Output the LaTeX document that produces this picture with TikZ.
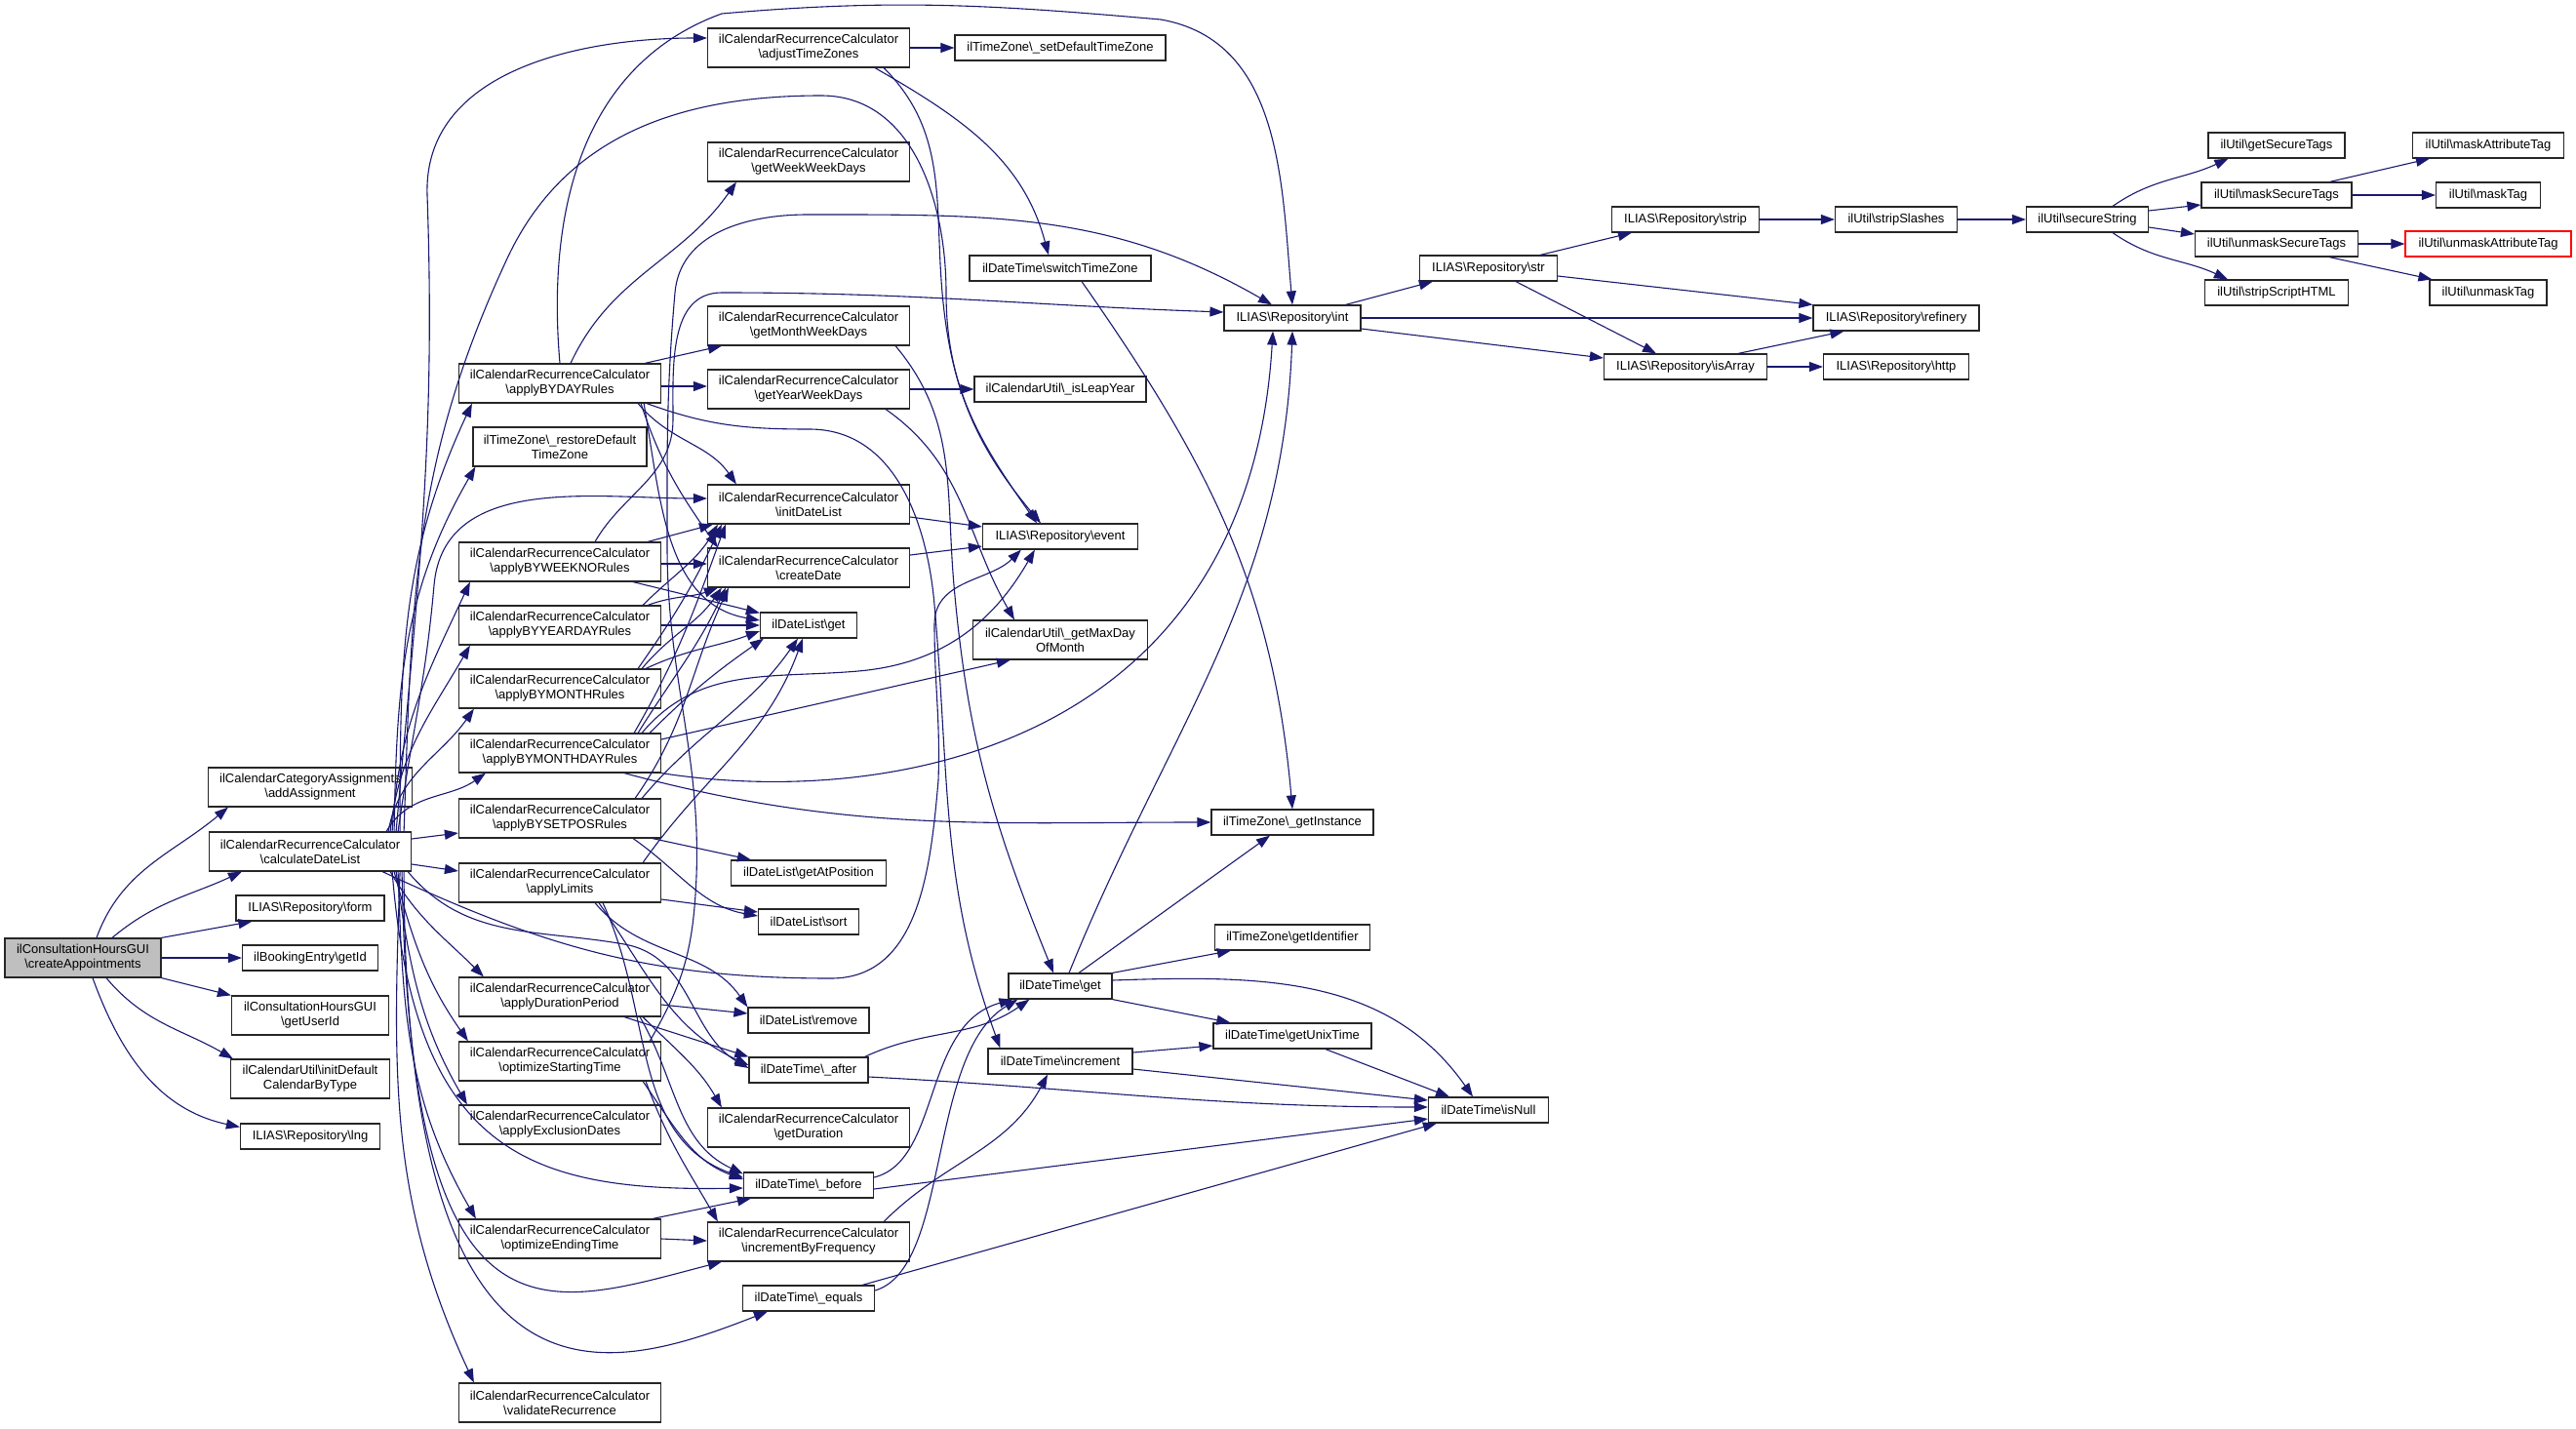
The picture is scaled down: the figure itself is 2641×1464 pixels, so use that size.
\documentclass[tikz,border=0pt]{standalone}
\usepackage{fontspec}
\setmainfont{Liberation Sans}
\usetikzlibrary{arrows.meta}
\definecolor{edgeblue}{HTML}{191970}
\definecolor{callergray}{HTML}{BFBFBF}
\newcommand{\bksl}{\textbackslash}
\tikzset{
  fnbox/.style={draw=black!85, line width=1.2pt, fill=white, align=center, inner sep=2pt,
    minimum height=26pt, font=\fontsize{13}{15}\selectfont},
  fnboxtwo/.style={fnbox, minimum height=40pt},
  call/.style={draw=edgeblue, line width=1.1pt, -{Triangle[length=14pt,width=10pt]}}
}

\begin{document}
\begin{tikzpicture}[x=1pt, y=1pt]
    \useasboundingbox (0,0) rectangle (2641,-1464);

    \node[fnboxtwo, minimum width=160pt, fill=callergray] (cA) at (85,-982) {ilConsultationHoursGUI\\\bksl createAppointments};
    \node[fnboxtwo, minimum width=209pt] (addasg) at (318,-807) {ilCalendarCategoryAssignments\\\bksl addAssignment};
    \node[fnboxtwo, minimum width=207pt] (cdl) at (318,-873) {ilCalendarRecurrenceCalculator\\\bksl calculateDateList};
    \node[fnbox, minimum width=152pt] (form) at (318,-931) {ILIAS\bksl Repository\bksl form};
    \node[fnbox, minimum width=139pt] (getid) at (318,-982) {ilBookingEntry\bksl getId};
    \node[fnboxtwo, minimum width=161pt] (getuserid) at (318,-1041) {ilConsultationHoursGUI\\\bksl getUserId};
    \node[fnboxtwo, minimum width=163pt] (initdef) at (318,-1106) {ilCalendarUtil\bksl initDefault\\CalendarByType};
    \node[fnbox, minimum width=143pt] (lng) at (318,-1165) {ILIAS\bksl Repository\bksl lng};

    \node[fnboxtwo, minimum width=207pt] (byday) at (574,-393) {ilCalendarRecurrenceCalculator\\\bksl applyBYDAYRules};
    \node[fnboxtwo, minimum width=178pt] (restoretz) at (574,-458) {ilTimeZone\bksl\_restoreDefault\\TimeZone};
    \node[fnboxtwo, minimum width=207pt] (bywn) at (574,-576) {ilCalendarRecurrenceCalculator\\\bksl applyBYWEEKNORules};
    \node[fnboxtwo, minimum width=207pt] (byyd) at (574,-641) {ilCalendarRecurrenceCalculator\\\bksl applyBYYEARDAYRules};
    \node[fnboxtwo, minimum width=207pt] (bym) at (574,-706) {ilCalendarRecurrenceCalculator\\\bksl applyBYMONTHRules};
    \node[fnboxtwo, minimum width=207pt] (bymd) at (574,-772) {ilCalendarRecurrenceCalculator\\\bksl applyBYMONTHDAYRules};
    \node[fnboxtwo, minimum width=207pt] (bysp) at (574,-839) {ilCalendarRecurrenceCalculator\\\bksl applyBYSETPOSRules};
    \node[fnboxtwo, minimum width=207pt] (limits) at (574,-905) {ilCalendarRecurrenceCalculator\\\bksl applyLimits};
    \node[fnboxtwo, minimum width=207pt] (dur) at (574,-1022) {ilCalendarRecurrenceCalculator\\\bksl applyDurationPeriod};
    \node[fnboxtwo, minimum width=207pt] (optst) at (574,-1088) {ilCalendarRecurrenceCalculator\\\bksl optimizeStartingTime};
    \node[fnboxtwo, minimum width=207pt] (exclusion) at (574,-1153) {ilCalendarRecurrenceCalculator\\\bksl applyExclusionDates};
    \node[fnboxtwo, minimum width=207pt] (optend) at (574,-1270) {ilCalendarRecurrenceCalculator\\\bksl optimizeEndingTime};
    \node[fnboxtwo, minimum width=207pt] (validate) at (574,-1438) {ilCalendarRecurrenceCalculator\\\bksl validateRecurrence};

    \node[fnboxtwo, minimum width=207pt] (adjtz) at (829,-49) {ilCalendarRecurrenceCalculator\\\bksl adjustTimeZones};
    \node[fnboxtwo, minimum width=207pt] (getweek) at (829,-166) {ilCalendarRecurrenceCalculator\\\bksl getWeekWeekDays};
    \node[fnboxtwo, minimum width=207pt] (getmonth) at (829,-334) {ilCalendarRecurrenceCalculator\\\bksl getMonthWeekDays};
    \node[fnboxtwo, minimum width=207pt] (getyear) at (829,-399) {ilCalendarRecurrenceCalculator\\\bksl getYearWeekDays};
    \node[fnboxtwo, minimum width=207pt] (initdl) at (829,-517) {ilCalendarRecurrenceCalculator\\\bksl initDateList};
    \node[fnboxtwo, minimum width=207pt] (cdate) at (829,-582) {ilCalendarRecurrenceCalculator\\\bksl createDate};
    \node[fnbox, minimum width=99pt] (dlget) at (829,-641) {ilDateList\bksl get};
    \node[fnbox, minimum width=159pt] (getatpos) at (829,-895) {ilDateList\bksl getAtPosition};
    \node[fnbox, minimum width=103pt] (sort) at (829,-945) {ilDateList\bksl sort};
    \node[fnbox, minimum width=124pt] (remove) at (829,-1046) {ilDateList\bksl remove};
    \node[fnbox, minimum width=122pt] (after) at (829,-1097) {ilDateTime\bksl\_after};
    \node[fnboxtwo, minimum width=207pt] (getduration) at (829,-1156) {ilCalendarRecurrenceCalculator\\\bksl getDuration};
    \node[fnbox, minimum width=133pt] (before) at (829,-1215) {ilDateTime\bksl\_before};
    \node[fnboxtwo, minimum width=207pt] (incrfreq) at (829,-1273) {ilCalendarRecurrenceCalculator\\\bksl incrementByFrequency};
    \node[fnbox, minimum width=135pt] (equals) at (829,-1331) {ilDateTime\bksl\_equals};

    \node[fnbox, minimum width=216pt] (setdeftz) at (1087,-49) {ilTimeZone\bksl\_setDefaultTimeZone};
    \node[fnbox, minimum width=186pt] (switchtz) at (1087,-275) {ilDateTime\bksl switchTimeZone};
    \node[fnbox, minimum width=176pt] (isleap) at (1087,-399) {ilCalendarUtil\bksl\_isLeapYear};
    \node[fnbox, minimum width=159pt] (event) at (1087,-550) {ILIAS\bksl Repository\bksl event};
    \node[fnboxtwo, minimum width=179pt] (maxday) at (1087,-656) {ilCalendarUtil\bksl\_getMaxDay\\OfMonth};
    \node[fnbox, minimum width=106pt] (dtget) at (1087,-1011) {ilDateTime\bksl get};
    \node[fnbox, minimum width=148pt] (incr) at (1087,-1088) {ilDateTime\bksl increment};

    \node[fnbox, minimum width=140pt] (int) at (1325,-326) {ILIAS\bksl Repository\bksl int};
    \node[fnbox, minimum width=166pt] (getinst) at (1325,-843) {ilTimeZone\bksl\_getInstance};
    \node[fnbox, minimum width=159pt] (getident) at (1325,-961) {ilTimeZone\bksl getIdentifier};
    \node[fnbox, minimum width=162pt] (getunix) at (1325,-1062) {ilDateTime\bksl getUnixTime};
    \node[fnbox, minimum width=141pt] (str) at (1526,-275) {ILIAS\bksl Repository\bksl str};
    \node[fnbox, minimum width=123pt] (isnull) at (1526,-1138) {ilDateTime\bksl isNull};
    \node[fnbox, minimum width=151pt] (strip) at (1728,-225) {ILIAS\bksl Repository\bksl strip};
    \node[fnbox, minimum width=167pt] (isarray) at (1728,-376) {ILIAS\bksl Repository\bksl isArray};
    \node[fnbox, minimum width=125pt] (stripslashes) at (1944,-225) {ilUtil\bksl stripSlashes};
    \node[fnbox, minimum width=170pt] (refinery) at (1944,-326) {ILIAS\bksl Repository\bksl refinery};
    \node[fnbox, minimum width=149pt] (http) at (1944,-376) {ILIAS\bksl Repository\bksl http};
    \node[fnbox, minimum width=125pt] (securestr) at (2140,-225) {ilUtil\bksl secureString};
    \node[fnbox, minimum width=140pt] (getsecure) at (2334,-149) {ilUtil\bksl getSecureTags};
    \node[fnbox, minimum width=154pt] (masksecure) at (2334,-200) {ilUtil\bksl maskSecureTags};
    \node[fnbox, minimum width=167pt] (unmasksecure) at (2334,-250) {ilUtil\bksl unmaskSecureTags};
    \node[fnbox, minimum width=147pt] (stripscript) at (2334,-300) {ilUtil\bksl stripScriptHTML};
    \node[fnbox, minimum width=155pt] (maskattr) at (2551,-149) {ilUtil\bksl maskAttributeTag};
    \node[fnbox, minimum width=107pt] (masktag) at (2551,-200) {ilUtil\bksl maskTag};
    \node[fnbox, minimum width=170pt, draw=red] (unmaskattr) at (2551,-250) {ilUtil\bksl unmaskAttributeTag};
    \node[fnbox, minimum width=120pt] (unmasktag) at (2551,-300) {ilUtil\bksl unmaskTag};

    % createAppointments
    \draw[call] ([xshift=14]cA.north) to[out=70,in=220] ([xshift=21]addasg.south west);
    \draw[call] ([xshift=30]cA.north) to[out=40,in=205] ([xshift=34]cdl.south west);
    \draw[call] (cA.north east) -- ([xshift=17]form.south west);
    \draw[call] (cA.east) -- (getid.west);
    \draw[call] (cA.south east) -- (getuserid.north west);
    \draw[call] ([xshift=24]cA.south) to[out=-50,in=150] ([xshift=3]initdef.north west);
    \draw[call] ([xshift=10]cA.south) to[out=-70,in=168] ([yshift=-4]lng.north west);

    % calculateDateList
    \draw[call] ([xshift=-16]cdl.north east) to[out=85,in=-88] (438,-200) to[out=92,in=180] ([yshift=10]adjtz.west);
    \draw[call] ([xshift=-8]cdl.north east) to[out=88,in=-115] (520,-265) to[out=65,in=180] (842,-98) to[out=0,in=90] (970,-300) to[out=-90,in=125] ([xshift=-24]event.north);
    \draw[call] ([xshift=-12]cdl.north east) to[out=90,in=245] ([xshift=14]byday.south west);
    \draw[call] ([xshift=-18]cdl.north east) to[out=89,in=240] ([xshift=3]restoretz.south west);
    \draw[call] ([xshift=-14]cdl.north east) to[out=82,in=-95] (445,-600) to[out=85,in=180] ([yshift=6]initdl.west);
    \draw[call] ([xshift=-20]cdl.north east) to[out=87,in=245] ([xshift=12]bywn.south west);
    \draw[call] ([xshift=-22]cdl.north east) to[out=84,in=240] ([xshift=12]byyd.south west);
    \draw[call] ([xshift=-24]cdl.north east) to[out=80,in=235] ([xshift=16]bym.south west);
    \draw[call] ([xshift=-26]cdl.north east) to[out=60,in=215] ([xshift=28]bymd.south west);
    \draw[call] ([yshift=13]cdl.east) -- ([yshift=-15]bysp.west);
    \draw[call] ([yshift=-13]cdl.east) -- ([yshift=12]limits.west);
    \draw[call] ([xshift=-22]cdl.south east) to[out=-60,in=135] ([xshift=26]dur.north west);
    \draw[call] ([xshift=-18]cdl.south east) to[out=-75,in=125] ([xshift=10]optst.north west);
    \draw[call] ([xshift=-16]cdl.south east) to[out=-82,in=120] ([xshift=9]exclusion.north west);
    \draw[call] ([xshift=-14]cdl.south east) to[out=-88,in=120] ([xshift=18]optend.north west);
    \draw[call] ([xshift=-12]cdl.south east) to[out=-92,in=115] ([xshift=16]validate.north west);
    \draw[call] ([xshift=-20]cdl.south east) .. controls (425,-1180) and (540,-1222) .. ([yshift=-3]before.west);
    \draw[call] ([xshift=-10]cdl.south east) .. controls (420,-1400) and (560,-1340) .. ([xshift=15]incrfreq.south west);
    \draw[call] ([xshift=-8]cdl.south east) .. controls (415,-1470) and (620,-1410) .. ([xshift=26]equals.south west);
    \draw[call] ([xshift=-30]cdl.south east) to[out=-25,in=180] (852,-1003) to[out=0,in=-95] (962,-800) to[out=88,in=-90] (958,-640) to[out=90,in=225] ([xshift=40]event.south west);
    \draw[call] ([xshift=-4]cdl.south east) to[out=-50,in=170] (640,-968) to[out=-10,in=150] ([yshift=2]after.west);

    % apply...Rules
    \draw[call] (byday.north) to[out=95,in=200] (740,-14) to[out=5,in=175] (1190,-20) to[out=-10,in=95] (int.north);
    \draw[call] ([xshift=11]byday.north) to[out=65,in=235] ([xshift=30]getweek.south west);
    \draw[call] ([xshift=-17]byday.north east) -- ([xshift=15]getmonth.south west);
    \draw[call] ([yshift=-3]byday.east) -- ([yshift=3]getyear.west);
    \draw[call] ([xshift=-24]byday.south east) to[out=-50,in=125] ([xshift=30]initdl.north west);
    \draw[call] ([xshift=-21]byday.south east) to[out=-72,in=125] ([xshift=11]cdate.north west);
    \draw[call] ([xshift=-18]byday.south east) to[out=-80,in=170] ([yshift=5]dlget.west);
    \draw[call] ([xshift=-15]byday.south east) to[out=-20,in=180] (830,-440) to[out=0,in=95] (958,-620) to[out=-85,in=110] ([xshift=13]incr.north west);

    \draw[call] ([xshift=36]bywn.north) to[out=60,in=-90] (690,-430) to[out=90,in=180] (740,-300) to[out=0,in=178] ([yshift=6]int.west);
    \draw[call] ([xshift=-14]bywn.north east) -- ([xshift=6]initdl.south west);
    \draw[call] ([yshift=-2]bywn.east) -- ([yshift=4]cdate.west);
    \draw[call] ([xshift=-29]bywn.south east) -- ([yshift=-1]dlget.north west);

    \draw[call] ([xshift=-19]byyd.north east) to[out=45,in=240] ([xshift=11]initdl.south west);
    \draw[call] ([xshift=-14]byyd.north east) to[out=20,in=200] ([xshift=11]cdate.south west);
    \draw[call] (byyd.east) -- (dlget.west);

    \draw[call] ([xshift=-24]bym.north east) to[out=55,in=245] ([xshift=15]initdl.south west);
    \draw[call] ([xshift=-20]bym.north east) to[out=50,in=235] ([xshift=15]cdate.south west);
    \draw[call] ([xshift=-16]bym.north east) to[out=25,in=200] ([yshift=-6]dlget.west);

    \draw[call] ([xshift=-28]bymd.north east) to[out=60,in=250] ([xshift=19]initdl.south west);
    \draw[call] ([xshift=-24]bymd.north east) to[out=58,in=245] ([xshift=19]cdate.south west);
    \draw[call] ([xshift=-12]bymd.north east) to[out=45,in=215] ([xshift=4]dlget.south west);
    \draw[call] ([xshift=-20]bymd.north east) to[out=50,in=185] (880,-688) to[out=5,in=240] ([xshift=54]event.south west);
    \draw[call] ([yshift=14]bymd.east) -- ([xshift=39]maxday.south west);
    \draw[call] (bymd.south east) .. controls (920,-830) and (1280,-760) .. ([xshift=-20]int.south);
    \draw[call] ([xshift=-38]bymd.south east) to[out=-15,in=180] (getinst.west);

    \draw[call] ([xshift=-27]bysp.north east) to[out=55,in=245] ([xshift=22]cdate.south west);
    \draw[call] ([xshift=-20]bysp.north east) to[out=50,in=235] ([xshift=-11]dlget.south);
    \draw[call] ([xshift=-9]bysp.south east) -- ([xshift=21]getatpos.north west);
    \draw[call] ([xshift=-29]bysp.south east) to[out=-35,in=170] ([yshift=6]sort.west);

    \draw[call] ([yshift=-17]limits.east) -- ([yshift=10]sort.west);
    \draw[call] ([xshift=-19]limits.north east) to[out=55,in=250] ([xshift=-6]dlget.south);
    \draw[call] ([xshift=36]limits.south) to[out=-50,in=125] (remove.north west);
    \draw[call] ([xshift=40]limits.south) to[out=-55,in=155] ([yshift=5]after.west);
    \draw[call] ([xshift=44]limits.south) to[out=-65,in=160] ([yshift=-6]before.north west);

    \draw[call] ([yshift=-8]dur.east) -- ([yshift=7]remove.west);
    \draw[call] ([xshift=-38]dur.south east) -- (after.north west);
    \draw[call] ([xshift=-19]dur.south east) to[out=-45,in=120] ([xshift=15]getduration.north west);
    \draw[call] ([xshift=-22]dur.south east) to[out=-60,in=155] ([yshift=-2]before.north west);

    \draw[call] ([xshift=-19]optst.south east) to[out=-55,in=160] ([yshift=6]before.west);
    \draw[call] ([xshift=-16]optst.south east) to[out=-70,in=120] ([xshift=11]incrfreq.north west);
    \draw[call] ([xshift=-12]optst.north east) to[out=60,in=-95] (712,-930) to[out=85,in=-90] (684,-560) to[out=90,in=-95] (692,-300) to[out=85,in=180] (828,-220) to[out=0,in=150] ([xshift=-21]int.north);

    \draw[call] ([xshift=-9]optend.north east) -- ([xshift=8]before.south west);
    \draw[call] (optend.east) -- ([yshift=1]incrfreq.west);

    % column four and five
    \draw[call] (adjtz.east) -- (setdeftz.west);
    \draw[call] ([xshift=-36]adjtz.south east) to[out=-30,in=105] ([xshift=-12]switchtz.north);
    \draw[call] ([xshift=-27]adjtz.south east) to[out=-45,in=95] (966,-300) to[out=-85,in=130] ([xshift=-20]event.north);
    \draw[call] ([xshift=-15]getmonth.south east) to[out=-50,in=95] (978,-600) to[out=-85,in=112] ([xshift=-7]dtget.north);
    \draw[call] (getyear.east) -- (isleap.west);
    \draw[call] ([xshift=-25]getyear.south east) to[out=-35,in=120] ([xshift=-47]maxday.north);
    \draw[call] ([yshift=-13]initdl.east) -- ([yshift=10]event.west);
    \draw[call] ([yshift=13]cdate.east) -- ([yshift=-10]event.west);
    \draw[call] ([xshift=22]switchtz.south) to[out=-55,in=95] (getinst.north);

    \draw[call] ([xshift=-4]after.north east) to[out=25,in=215] ([xshift=22]dtget.south west);
    \draw[call] ([yshift=-7]after.east) to[out=-3,in=180] ([yshift=3]isnull.west);
    \draw[call] ([yshift=8]before.east) .. controls (965,-1190) and (945,-1050) .. ([xshift=5]dtget.south west);
    \draw[call] ([yshift=-4]before.east) -- ([yshift=-9]isnull.west);
    \draw[call] ([yshift=8]equals.east) .. controls (975,-1300) and (950,-1080) .. ([xshift=10]dtget.south west);
    \draw[call] ([xshift=-13]equals.north east) -- ([xshift=9]isnull.south west);
    \draw[call] ([xshift=-27]incrfreq.north east) to[out=45,in=-118] ([xshift=-13]incr.south);

    \draw[call] ([xshift=9]dtget.north) to[out=68,in=-92] (int.south);
    \draw[call] ([xshift=19]dtget.north) -- ([xshift=-23]getinst.south);
    \draw[call] (dtget.north east) -- ([xshift=17]getident.south west);
    \draw[call] (dtget.south east) -- ([xshift=18]getunix.north west);
    \draw[call] ([yshift=6]dtget.east) to[out=2,in=125] ([xshift=-16]isnull.north);
    \draw[call] ([yshift=9]incr.east) -- ([yshift=-10]getunix.west);
    \draw[call] ([yshift=-8]incr.east) -- ([yshift=10]isnull.west);
    \draw[call] ([xshift=34]getunix.south) -- ([xshift=-40]isnull.north);

    % repository and util
    \draw[call] ([xshift=-16]int.north east) -- ([xshift=14]str.south west);
    \draw[call] (int.east) -- (refinery.west);
    \draw[call] ([yshift=-11]int.east) -- ([yshift=9]isarray.west);
    \draw[call] ([xshift=-18]str.north east) -- ([xshift=21]strip.south west);
    \draw[call] ([yshift=-8]str.east) -- (refinery.north west);
    \draw[call] ([xshift=28]str.south) -- ([xshift=-30]isarray.north);
    \draw[call] ([xshift=-30]isarray.north east) -- ([xshift=32]refinery.south west);
    \draw[call] (isarray.east) -- (http.west);
    \draw[call] (strip.east) -- (stripslashes.west);
    \draw[call] (stripslashes.east) -- (securestr.west);
    \draw[call] ([xshift=26]securestr.north) to[out=35,in=205] ([xshift=21]getsecure.south west);
    \draw[call] ([yshift=9]securestr.east) -- ([yshift=-10]masksecure.west);
    \draw[call] ([yshift=-8]securestr.east) -- ([yshift=10]unmasksecure.west);
    \draw[call] ([xshift=26]securestr.south) to[out=-35,in=155] ([xshift=24]stripscript.north west);
    \draw[call] ([xshift=-23]masksecure.north east) -- ([xshift=18]maskattr.south west);
    \draw[call] (masksecure.east) -- (masktag.west);
    \draw[call] (unmasksecure.east) -- (unmaskattr.west);
    \draw[call] ([xshift=-30]unmasksecure.south east) -- ([xshift=3]unmasktag.north west);
\end{tikzpicture}
\end{document}
